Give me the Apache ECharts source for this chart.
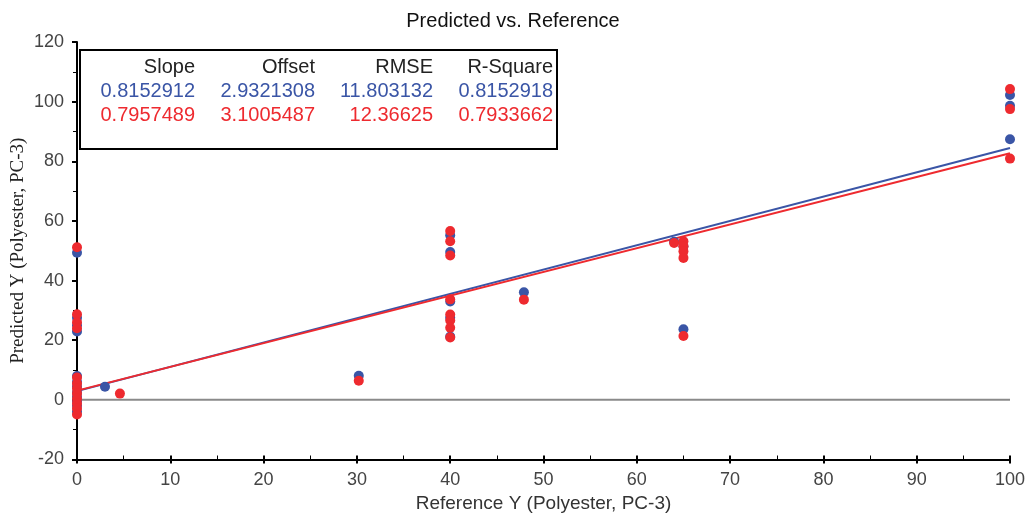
<!DOCTYPE html>
<html>
<head>
<meta charset="utf-8">
<script src="https://cdn.jsdelivr.net/npm/echarts@6/dist/echarts.min.js"></script>
<style>
  html, body { margin: 0; padding: 0; background: #fff; }
  #chart { width: 1026px; height: 517px; }
</style>
</head>
<body>
<div id="chart"></div>
<script>
// calibration points: reference value vs predicted value, two models
var blueRef  = [0, 0, 0, 0, 0, 0, 0, 0, 0, 0, 0, 0, 3, 30.2, 40, 40, 40, 40, 40, 47.9, 64, 65, 65, 100, 100, 100];
var bluePred = [49.3, 27.5, 25, 22.9, 8, 6, 4.5, 2.5, 1, -0.5, -2, -4, 4.4, 8.1, 55.2, 49.6, 33, 27.5, 21.2, 36.1, 53, 51.5, 23.7, 102.2, 98.6, 87.4];

var redRef  = [0, 0, 0, 0, 0, 0, 0, 0, 0, 0, 0, 0, 4.6, 30.2, 40, 40, 40, 40, 40, 40, 40, 40, 47.9, 64, 65, 65, 65, 65, 65, 100, 100, 100];
var redPred = [51.2, 28.7, 26, 24, 7.5, 5.5, 3.8, 2.1, 0.4, -1.2, -2.9, -4.9, 2.1, 6.4, 56.6, 53.2, 48.4, 33.7, 28.6, 26.6, 24.2, 20.9, 33.6, 52.6, 53.2, 51.5, 49.8, 47.6, 21.4, 104.2, 97.5, 80.9];

// fit statistics table
var statHeaders = ['Slope', 'Offset', 'RMSE', 'R-Square'];
var blueStats = ['0.8152912', '2.9321308', '11.803132', '0.8152918'];
var redStats  = ['0.7957489', '3.1005487', '12.36625', '0.7933662'];

var blueSlope = 0.8152912, blueOffset = 2.9321308;
var redSlope = 0.7957489, redOffset = 3.1005487;

var BLUE = '#3a55a6';
var RED = '#ee2a2f';
var SANS = '"Liberation Sans", Arial, sans-serif';

function pairs(xs, ys) {
  var out = [];
  for (var i = 0; i < xs.length; i++) out.push([xs[i], ys[i]]);
  return out;
}
function fitLine(slope, offset) {
  return [[0, offset], [100, slope * 100 + offset]];
}

var colRight = [195, 315, 433, 553];
var tableTexts = [];
function addRow(vals, y, color) {
  for (var i = 0; i < vals.length; i++) {
    tableTexts.push({
      type: 'text', x: colRight[i], y: y, z: 101,
      style: { text: vals[i], fill: color, font: '20px ' + SANS,
               textAlign: 'right', textVerticalAlign: 'middle' }
    });
  }
}
addRow(statHeaders, 67, '#222');
addRow(blueStats, 91, BLUE);
addRow(redStats, 115, RED);

var myChart = echarts.init(document.getElementById('chart'));

var option = {
  animation: false,
  backgroundColor: '#fff',
  title: {
    text: 'Predicted vs. Reference',
    left: 'center', top: 6,
    textStyle: { fontSize: 20, fontWeight: 'normal', color: '#111', fontFamily: SANS }
  },
  grid: { left: 77, right: 16, top: 42, bottom: 57.5, outerBoundsMode: 'none', containLabel: false },
  xAxis: [
    {
      type: 'value', min: 0, max: 100, interval: 10, position: 'bottom',
      name: 'Reference Y (Polyester, PC-3)',
      nameLocation: 'middle', nameGap: 34,
      nameTextStyle: { fontSize: 19, color: '#333', fontFamily: SANS },
      axisLine: { onZero: false, lineStyle: { color: '#000', width: 2 } },
      axisTick: { length: 4, lineStyle: { color: '#000', width: 2 } },
      axisLabel: { fontSize: 18, color: '#444', margin: 12, fontFamily: SANS },
      splitLine: { show: false }
    },
    {
      // inner ticks (major + minor) drawn above the bottom axis line
      type: 'value', min: 0, max: 100, interval: 10, position: 'bottom',
      axisLine: { show: false, onZero: false },
      axisTick: { inside: true, length: 4, lineStyle: { color: '#000', width: 2 } },
      minorTick: { show: true, splitNumber: 2, length: 4, lineStyle: { color: '#000', width: 1 } },
      axisLabel: { show: false },
      splitLine: { show: false }
    }
  ],
  yAxis: {
    type: 'value', min: -20, max: 120, interval: 20,
    name: 'Predicted Y (Polyester, PC-3)',
    nameLocation: 'middle', nameGap: 49, nameMoveOverlap: false,
    nameTextStyle: { fontSize: 19, color: '#222', fontFamily: '"Liberation Serif", "Times New Roman", serif' },
    axisLine: { onZero: false, lineStyle: { color: '#000', width: 2 } },
    axisTick: { length: 5, lineStyle: { color: '#000', width: 2 } },
    minorTick: { show: true, splitNumber: 2, length: 4, lineStyle: { color: '#000', width: 1 } },
    axisLabel: { fontSize: 18, color: '#444', margin: 13, fontFamily: SANS },
    splitLine: { show: false }
  },
  series: [
    {
      type: 'line', data: [[0, 0], [100, 0]], symbol: 'none', silent: true,
      lineStyle: { color: '#8a8a8a', width: 2 }, z: 1
    },
    {
      type: 'line', data: fitLine(blueSlope, blueOffset), symbol: 'none',
      lineStyle: { color: BLUE, width: 2 }, z: 2
    },
    {
      type: 'line', data: fitLine(redSlope, redOffset), symbol: 'none',
      lineStyle: { color: RED, width: 2 }, z: 3
    },
    {
      type: 'scatter', data: pairs(blueRef, bluePred), symbolSize: 10,
      itemStyle: { color: BLUE, opacity: 1 }, z: 4
    },
    {
      type: 'scatter', data: pairs(redRef, redPred), symbolSize: 10,
      itemStyle: { color: RED, opacity: 1 }, z: 5
    }
  ],
  graphic: [
    {
      type: 'rect', shape: { x: 80, y: 50, width: 477, height: 99 },
      style: { fill: '#fff', stroke: '#000', lineWidth: 2 }, z: 100
    }
  ].concat(tableTexts)
};

myChart.setOption(option);
</script>
</body>
</html>
